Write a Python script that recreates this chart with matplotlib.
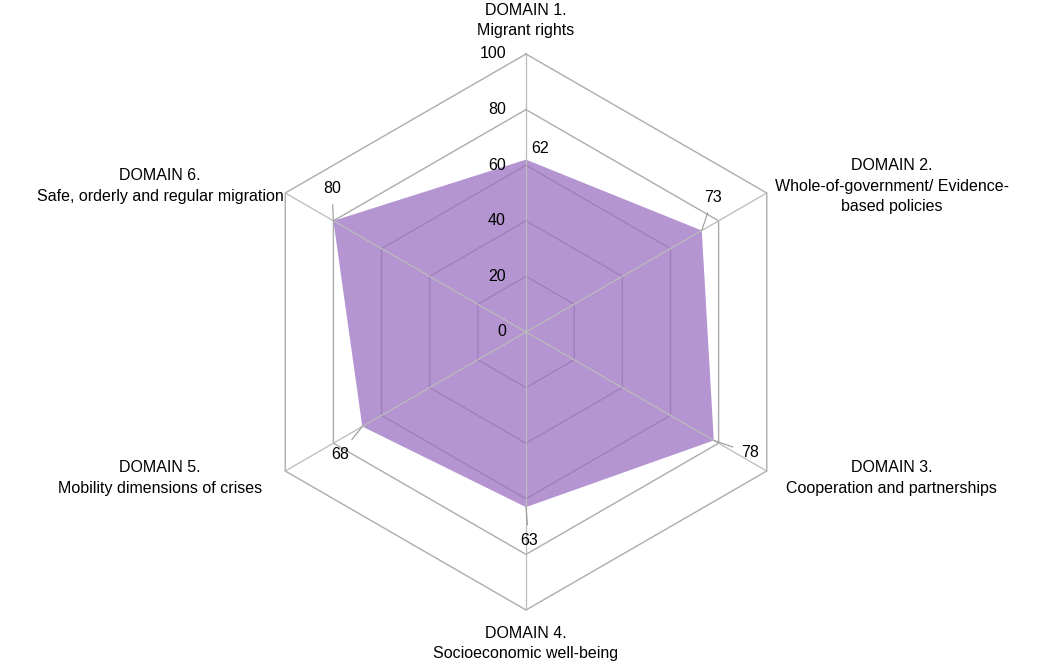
import numpy as np
import matplotlib
matplotlib.use("Agg")
from matplotlib import pyplot as plt

plt.rcParams['font.family'] = ['Liberation Sans', 'DejaVu Sans']

domains = ["DOMAIN 1.\nMigrant rights",
           "DOMAIN 2.\nWhole-of-government/ Evidence-\nbased policies",
           "DOMAIN 3.\nCooperation and partnerships",
           "DOMAIN 4.\nSocioeconomic well-being",
           "DOMAIN 5.\nMobility dimensions of crises",
           "DOMAIN 6.\nSafe, orderly and regular migration"]
scores = [62, 73, 78, 63, 68, 80]
rings = [20, 40, 60, 80, 100]
ring_labels = ["0", "20", "40", "60", "80", "100"]

# offsets (points) for the value labels, and whether a leader line is drawn
label_offsets = [(10, 8), (8, 24), (26, -9), (2, -24), (-16, -20), (-1, 23)]
leader = [False, True, True, True, True, True]

n = len(scores)
theta = np.arange(n) * 2 * np.pi / n   # clockwise from top


def to_xy(r, t):
    return r * np.sin(t), r * np.cos(t)


fig = plt.figure(figsize=(10.4, 6.63), dpi=100)
ax = fig.add_axes([0, 0, 1, 1])
ax.set_xlim(-526 / 2.78, 514 / 2.78)
ax.set_ylim(-331 / 2.78, 332 / 2.78)
ax.set_aspect('equal')
ax.axis('off')

grid_col = '#acacac'
tc = np.append(theta, theta[0])
for r in rings:
    x, y = to_xy(r, tc)
    ax.plot(x, y, color=grid_col, lw=1.0, zorder=1)

# filled score polygon
sc = np.append(scores, scores[0])
x, y = to_xy(sc, tc)
ax.fill(x, y, color='#9a70c2', alpha=0.74, lw=0, zorder=2)

# spokes on top
for t in theta:
    x, y = to_xy(np.array([0, 100]), np.array([t, t]))
    ax.plot(x, y, color='#bbbbbb', lw=0.9, zorder=3)

# radial tick labels
for r, lab in zip([0] + rings, ring_labels):
    ax.text(-20 / 2.78, r, lab, ha='right', va='center', fontsize=11.5, zorder=4)

# value labels
for s, t, off, ld in zip(scores, theta, label_offsets, leader):
    xy = to_xy(s, t)
    props = dict(arrowstyle='-', color='#999999', lw=0.8, shrinkA=4, shrinkB=0) if ld else None
    ax.annotate(str(s), xy=xy, xytext=off, textcoords='offset points',
                ha='center', va='center', fontsize=11.5, arrowprops=props, zorder=5)

# domain labels
for i, (lab, t) in enumerate(zip(domains, theta)):
    vx, vy = to_xy(100, t)
    if i == 0:
        ax.text(vx, vy + 12, lab, ha='center', va='center', fontsize=11.5, linespacing=1.45)
    elif i == 3:
        ax.text(vx, vy - 12, lab, ha='center', va='center', fontsize=11.5, linespacing=1.45)
    else:
        sx = np.sign(vx)
        ax.text(vx + sx * 45, vy + 2.5 * np.sign(vy), lab, ha='center', va='center',
                fontsize=11.5, linespacing=1.45)

fig.savefig('out.png', dpi=100, facecolor='white')
